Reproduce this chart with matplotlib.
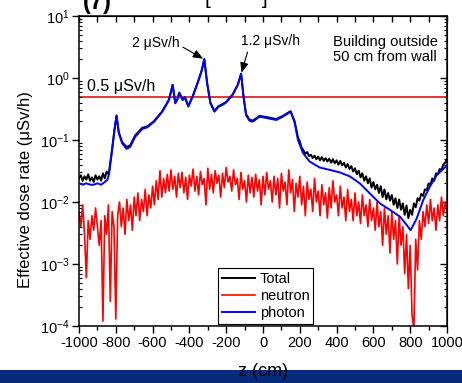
import matplotlib
matplotlib.use("Agg")
import matplotlib.pyplot as plt
from matplotlib.patches import Rectangle
from matplotlib.ticker import MultipleLocator, LogLocator, NullFormatter

plt.rcParams['font.family'] = ['Liberation Sans', 'DejaVu Sans']
plt.rcParams['mathtext.fontset'] = 'custom'
plt.rcParams['mathtext.rm'] = 'Liberation Sans'
plt.rcParams['mathtext.it'] = 'Liberation Sans:italic'
plt.rcParams['mathtext.bf'] = 'Liberation Sans:bold'
plt.rcParams['axes.unicode_minus'] = False

# ---------------- data ----------------
photon_z = [-1000, -980, -960, -940, -920, -900, -880, -860, -845, -836, -820, -807, -796,
            -784, -766, -742, -722, -695, -657, -629, -593, -548, -511, -491, -477, -465,
            -455, -437, -424, -406, -382, -355, -335, -319, -304, -286, -264, -243, -219,
            -201, -165, -137, -119, -106, -92, -74, -56, -19, 26, 72, 108, 150, 172, 190,
            217, 253, 308, 362, 417, 471, 526, 580, 635, 689, 744, 780, 802, 835, 871, 907,
            944, 1000]
photon_val = [0.020, 0.019, 0.020, 0.019, 0.019, 0.020, 0.019, 0.021, 0.023, 0.029, 0.069,
              0.145, 0.244, 0.13, 0.089, 0.072, 0.077, 0.112, 0.150, 0.160, 0.195, 0.284,
              0.44, 0.77, 0.39, 0.45, 0.57, 0.44, 0.48, 0.345, 0.50, 0.83, 1.25, 2.0, 0.83,
              0.39, 0.286, 0.34, 0.37, 0.40, 0.53, 0.77, 1.16, 0.50, 0.25, 0.205, 0.197,
              0.238, 0.224, 0.21, 0.238, 0.286, 0.19, 0.10, 0.062, 0.045, 0.036, 0.033,
              0.030, 0.026, 0.020, 0.0138, 0.0095, 0.0075, 0.0058, 0.0043, 0.0035, 0.0054,
              0.0108, 0.0177, 0.027, 0.039]

total_z = [-1000, -990, -980, -970, -960, -950, -940, -930, -920, -910, -900, -890, -880,
           -870, -860, -850, -840, -836, -820, -807, -796, -784, -766, -742, -722, -695,
           -657, -629, -593, -548, -511, -491, -477, -465, -455, -437, -424, -406, -382,
           -355, -335, -319, -304, -286, -264, -243, -219, -201, -165, -137, -119, -106,
           -92, -74, -56, -19, 26, 72, 108, 150, 172, 190,
           200, 210, 220, 230, 240, 250, 260, 270, 280, 290, 300, 310, 320, 330, 340, 350,
           360, 370, 380, 390, 400, 410, 420, 430, 440, 450, 460, 470, 480, 490, 500, 510,
           520, 530, 540, 550, 560, 570, 580, 590, 600, 610, 620, 630, 640, 650, 660, 670,
           680, 690, 700, 710, 720, 730, 740, 750, 760, 770, 780, 790, 800, 810, 820, 830,
           840, 850, 860, 870, 880, 890, 900, 910, 920, 930, 940, 950, 960, 970, 980, 990,
           1000]
total_val = [0.024, 0.027, 0.022, 0.026, 0.023, 0.028, 0.022, 0.025, 0.021, 0.027, 0.023,
             0.026, 0.022, 0.029, 0.024, 0.031, 0.028, 0.032, 0.072, 0.15, 0.25, 0.135,
             0.093, 0.077, 0.082, 0.118, 0.157, 0.166, 0.20, 0.29, 0.45, 0.78, 0.40, 0.46,
             0.58, 0.45, 0.49, 0.355, 0.51, 0.85, 1.27, 2.02, 0.85, 0.40, 0.295, 0.35, 0.38,
             0.41, 0.545, 0.78, 1.18, 0.51, 0.26, 0.215, 0.205, 0.245, 0.232, 0.218, 0.245,
             0.292, 0.20, 0.11,
             0.095, 0.075, 0.068, 0.060, 0.064, 0.055, 0.058, 0.051, 0.056, 0.049, 0.054,
             0.047, 0.053, 0.046, 0.051, 0.045, 0.050, 0.043, 0.049, 0.042, 0.047, 0.040,
             0.046, 0.039, 0.043, 0.036, 0.041, 0.034, 0.038, 0.031, 0.035, 0.028, 0.032,
             0.025, 0.029, 0.022, 0.026, 0.020, 0.024, 0.017, 0.021, 0.016, 0.019, 0.014,
             0.018, 0.012, 0.016, 0.011, 0.014, 0.0105, 0.013, 0.009, 0.0115, 0.008, 0.011,
             0.0075, 0.0095, 0.0062, 0.0088, 0.0055, 0.0075, 0.0062, 0.0095, 0.0082, 0.0115,
             0.0105, 0.0135, 0.0125, 0.016, 0.0155, 0.020, 0.019, 0.024, 0.022, 0.029, 0.028,
             0.034, 0.033, 0.040, 0.043, 0.050]

neutron_z = list(range(-1000, 1001, 10))
neutron_val = [
    7e-3, 4e-3, 9e-3, 3e-3, 6e-4, 5e-3, 2.5e-3, 6e-3, 3.5e-3, 8e-3,      # -1000..-910
    4e-3, 2e-3, 5e-3, 1.2e-4, 6e-3, 3e-3, 9e-3, 2.5e-4, 7e-3, 4e-3,       # -900..-810
    1.3e-4, 6e-3, 1e-2, 4e-3, 8e-3, 3e-3, 1.1e-2, 5e-3, 9e-3, 3.5e-3,    # -800..-710
    1.2e-2, 6e-3, 1.4e-2, 5e-3, 1.1e-2, 7e-3, 1.6e-2, 6e-3, 1.3e-2, 8e-3,  # -700..-610
    1.8e-2, 9e-3, 2.2e-2, 1.1e-2, 3.2e-2, 1.2e-2, 2.4e-2, 1.4e-2, 2.8e-2, 1.5e-2,  # -600..-510
    3.3e-2, 1.6e-2, 2.6e-2, 1.2e-2, 2.9e-2, 1.7e-2, 3.0e-2, 1.4e-2, 2.5e-2, 1.1e-2,  # -500..-410
    2.7e-2, 1.8e-2, 3.4e-2, 1.5e-2, 2.6e-2, 1.3e-2, 3.1e-2, 1.9e-2, 2.4e-2, 9e-3,  # -400..-310
    3.5e-2, 1.6e-2, 2.8e-2, 1.4e-2, 3.2e-2, 2.0e-2, 2.7e-2, 1.2e-2, 2.9e-2, 1.7e-2,  # -300..-210
    3.6e-2, 2.1e-2, 2.6e-2, 1.5e-2, 3.3e-2, 1.9e-2, 2.4e-2, 1.1e-2, 3.0e-2, 1.6e-2,  # -200..-110
    2.2e-2, 1.0e-2, 2.7e-2, 1.4e-2, 2.5e-2, 1.2e-2, 2.8e-2, 1.5e-2, 2.3e-2, 9e-3,  # -100..-10
    2.6e-2, 1.3e-2, 3.0e-2, 1.6e-2, 2.2e-2, 1.0e-2, 2.6e-2, 1.3e-2, 2.4e-2, 8e-3,  # 0..90
    2.9e-2, 1.5e-2, 2.1e-2, 9e-3, 3.3e-2, 1.4e-2, 2.3e-2, 7e-3, 2.0e-2, 1.2e-2,    # 100..190
    2.6e-2, 9e-3, 1.8e-2, 6e-3, 2.1e-2, 1.1e-2, 1.6e-2, 7e-3, 2.4e-2, 1.0e-2,      # 200..290
    1.5e-2, 6e-3, 1.9e-2, 9e-3, 1.4e-2, 5.5e-3, 1.7e-2, 8e-3, 2.2e-2, 1.0e-2,      # 300..390
    1.3e-2, 6e-3, 1.8e-2, 8e-3, 1.2e-2, 5e-3, 1.6e-2, 7e-3, 1.1e-2, 5e-3,          # 400..490
    1.4e-2, 6e-3, 1.0e-2, 4.5e-3, 1.3e-2, 6e-3, 9e-3, 4e-3, 1.1e-2, 5e-3,          # 500..590
    8e-3, 3.5e-3, 1.0e-2, 4e-3, 7e-3, 2e-3, 8e-3, 3e-3, 6e-3, 1.5e-3,             # 600..690
    7e-3, 2.5e-3, 5e-3, 1e-3, 6e-3, 2e-3, 4e-3, 7e-4, 3e-3, 4e-4,                 # 700..790
    2e-3, 1.5e-4, 9e-5, 2.5e-3, 8e-4, 5e-3, 2.5e-3, 7e-3, 4e-3, 9e-3,             # 800..890
    4.5e-3, 1.1e-2, 5e-3, 8e-3, 3.5e-3, 9e-3, 5e-3, 1.2e-2, 6e-3, 1.0e-2,         # 900..990
    7e-3]                                                                          # 1000

limit_val = 0.5
peak1 = (-319, 2.0)
peak2 = (-119, 1.16)

# ---------------- figure ----------------
W, H = 462, 383
fig = plt.figure(figsize=(W / 100, H / 100), dpi=100)
fig.patch.set_facecolor('white')

# navy band at bottom
fig.add_artist(Rectangle((0, 0), 1, 13 / H, transform=fig.transFigure,
                         facecolor='#072b7c', edgecolor='none', zorder=0))

ax = fig.add_axes([79 / W, 1 - 326 / H, (447 - 79) / W, (326 - 16) / H])
ax.set_yscale('log')
ax.set_xlim(-1000, 1000)
ax.set_ylim(1e-4, 1e1)

ax.plot(total_z, total_val, color='black', lw=1.4, label='Total', zorder=3)
ax.plot(neutron_z, neutron_val, color='#ff0000', lw=1.2, label='neutron', zorder=2)
ax.plot(photon_z, photon_val, color='#0000ff', lw=1.4, label='photon', zorder=4)
ax.axhline(limit_val, color='#e00000', lw=1.1, zorder=1)

fs = 10.5
ax.xaxis.set_major_locator(MultipleLocator(200))
ax.xaxis.set_minor_locator(MultipleLocator(100))
ax.yaxis.set_major_locator(LogLocator(base=10, numticks=20))
ax.yaxis.set_minor_locator(LogLocator(base=10, subs=range(2, 10), numticks=20))
ax.yaxis.set_minor_formatter(NullFormatter())
ax.tick_params(axis='x', which='major', direction='out', length=5, width=1, labelsize=fs, pad=2)
ax.tick_params(axis='x', which='minor', direction='out', length=3, width=1)
ax.tick_params(axis='y', which='major', direction='out', length=5, width=1, labelsize=fs, pad=2)
ax.tick_params(axis='y', which='minor', direction='in', length=2.5, width=0.8)
for s in ax.spines.values():
    s.set_linewidth(1.1)

secx = ax.secondary_xaxis('top')
secx.xaxis.set_major_locator(MultipleLocator(200))
secx.xaxis.set_minor_locator(MultipleLocator(100))
secx.tick_params(which='both', direction='in', length=4, width=1, labeltop=False)
secy = ax.secondary_yaxis('right')
secy.yaxis.set_major_locator(LogLocator(base=10, numticks=20))
secy.yaxis.set_minor_locator(LogLocator(base=10, subs=range(2, 10), numticks=20))
secy.tick_params(which='major', direction='in', length=5, width=1, labelright=False)
secy.tick_params(which='minor', direction='in', length=2.5, width=0.8, labelright=False)

ax.set_ylabel('Effective dose rate (μSv/h)', fontsize=12)
ax.yaxis.set_label_coords(-0.125, 0.44)
fig.text(263 / W, 1 - 372 / H, 'z (cm)', fontsize=13, ha='center', va='center')

ax.text(-955, 0.56, '0.5 μSv/h', fontsize=11.5, ha='left', va='bottom')
ax.annotate('2 μSv/h', xy=peak1, xytext=(-580, 3.7), fontsize=10, ha='center', va='center',
            arrowprops=dict(arrowstyle='-|>,head_length=0.6,head_width=0.25', color='black',
                            lw=0.8, relpos=(1.0, 0.3), shrinkA=0, shrinkB=1))
ax.annotate('1.2 μSv/h', xy=peak2, xytext=(41, 3.95), fontsize=10, ha='center', va='center',
            arrowprops=dict(arrowstyle='-|>,head_length=0.6,head_width=0.25', color='black',
                            lw=0.8, relpos=(0.13, 0.0), shrinkA=1, shrinkB=1))
ax.text((333 - 79) / 368, (326 - 49.5) / 310, 'Building outside\n50 cm from wall',
        transform=ax.transAxes, fontsize=10.6, ha='left', va='center', linespacing=1.15)

leg = ax.legend(loc='lower left', bbox_to_anchor=(0.378, 0.008), fontsize=10.5,
                frameon=True, fancybox=False, edgecolor='black', framealpha=1,
                handlelength=2.3, handletextpad=0.3, labelspacing=0.2, borderpad=0.25,
                borderaxespad=0)
leg.get_frame().set_linewidth(0.8)

# cropped header texts at top edge
fig.text(83 / W, 1 - 9 / H, '(7)', fontsize=17, fontweight='bold', ha='left', va='baseline')
fig.text(205 / W, 1 - 4 / H, '[', fontsize=15, ha='left', va='baseline')
fig.text(262 / W, 1 - 4 / H, ']', fontsize=15, ha='left', va='baseline')

fig.savefig('out.png', dpi=100)
